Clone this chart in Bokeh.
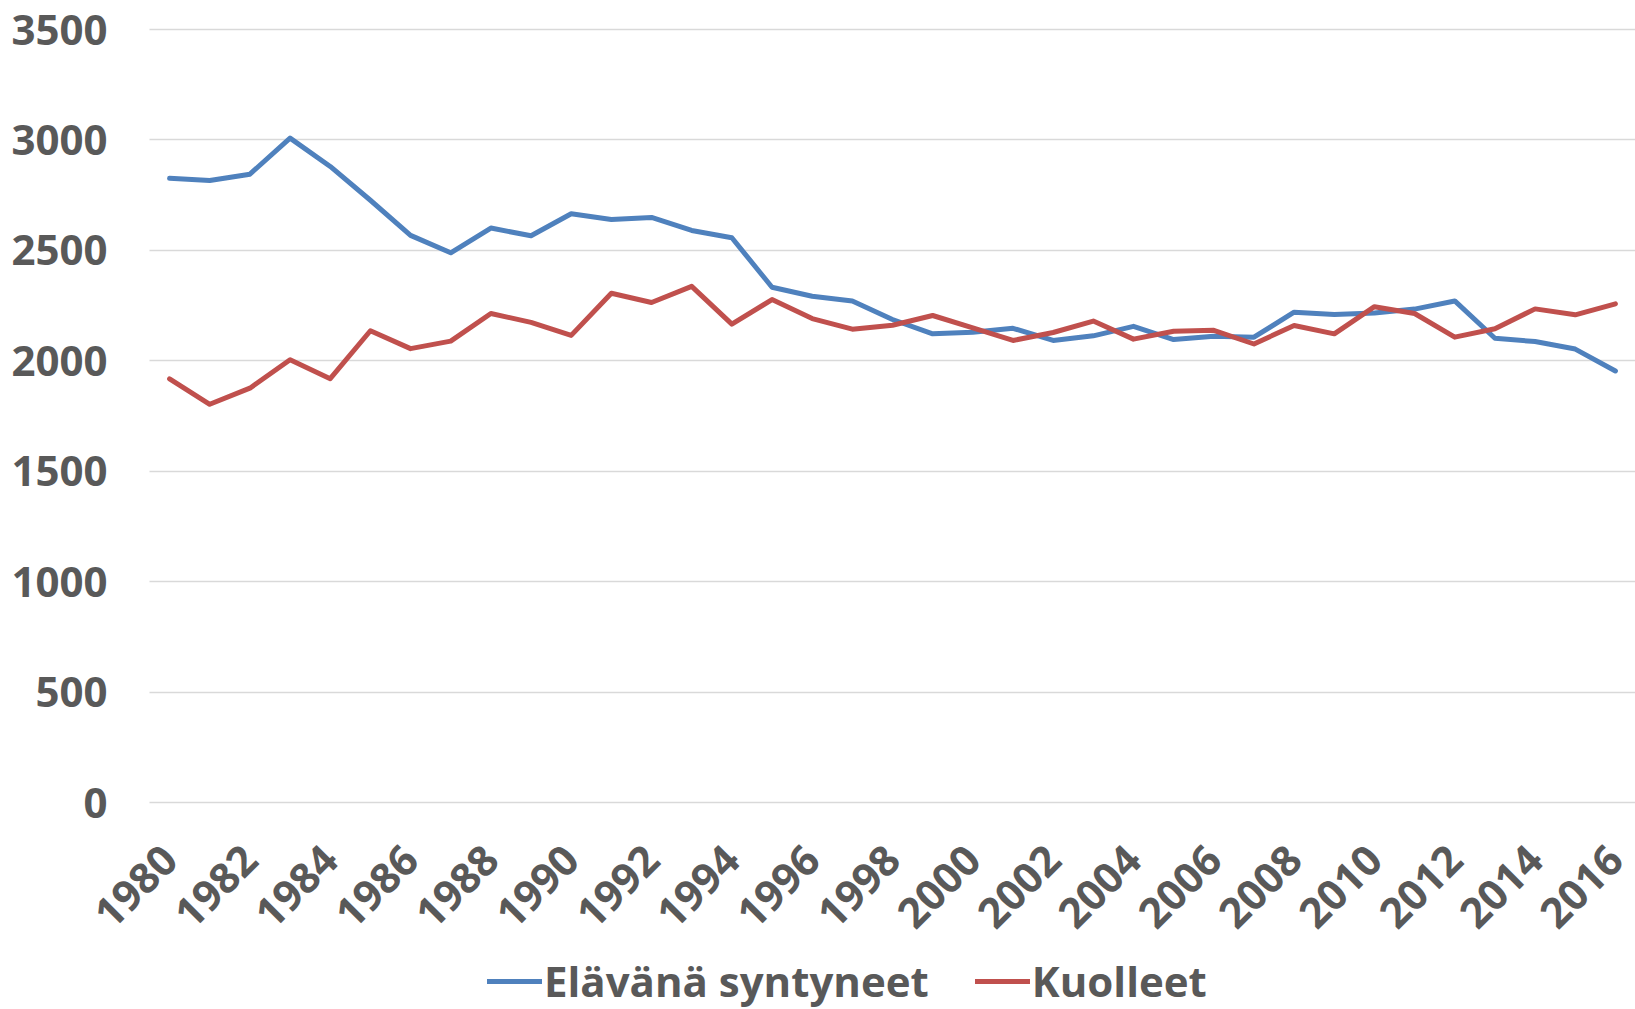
import math
from bokeh.plotting import figure
from bokeh.models import Range1d, FixedTicker, Legend, LegendItem
from bokeh.embed import file_html
from bokeh.resources import INLINE

years = list(range(1980, 2017))
births = [2826, 2816, 2845, 3008, 2880, 2727, 2568, 2489, 2601, 2566,
          2666, 2640, 2649, 2590, 2557, 2333, 2292, 2271, 2187, 2122,
          2129, 2147, 2092, 2113, 2156, 2096, 2111, 2107, 2220, 2210,
          2216, 2234, 2271, 2102, 2087, 2053, 1954]
deaths = [1918, 1803, 1876, 2005, 1919, 2136, 2055, 2089, 2214, 2174,
          2115, 2306, 2264, 2337, 2166, 2277, 2191, 2143, 2161, 2205,
          2149, 2092, 2128, 2180, 2098, 2134, 2138, 2076, 2160, 2122,
          2245, 2214, 2107, 2145, 2235, 2208, 2258]
series_names = ["Elävänä syntyneet", "Kuolleet"]
x_ticks = list(range(1980, 2017, 2))
y_ticks = [0, 500, 1000, 1500, 2000, 2500, 3000, 3500]

FONT = "Open Sans"
TXT = "#595959"

# page and plot-area geometry (pixels)
PAGE_W, PAGE_H = 1635, 1009
PLOT_LEFT, PLOT_W = 149, 1486
PLOT_TOP, PLOT_H = 29, 773
X0, X1 = years[0] - 0.5, years[-1] + 0.5
Y0, Y1 = y_ticks[0], y_ticks[-1]
px_per_x = PLOT_W / (X1 - X0)
px_per_y = PLOT_H / (Y1 - Y0)
x_start = X0 - PLOT_LEFT / px_per_x
x_end = X1 + (PAGE_W - PLOT_LEFT - PLOT_W) / px_per_x
y_end = Y1 + PLOT_TOP / px_per_y
y_start = Y0 - (PAGE_H - PLOT_TOP - PLOT_H) / px_per_y

# the frame covers the whole page; both axes sit at fixed locations so the
# tick labels and the legend stay inside the frame
p = figure(frame_width=PAGE_W, frame_height=PAGE_H, output_backend="svg",
           toolbar_location=None,
           x_range=Range1d(x_start, x_end), y_range=Range1d(y_start, y_end),
           min_border_left=0, min_border_right=0, min_border_top=0,
           min_border_bottom=0)
p.outline_line_color = None
p.background_fill_color = "white"
p.border_fill_color = "white"
p.xgrid.visible = False
p.ygrid.grid_line_color = "#D9D9D9"
p.ygrid.grid_line_width = 1.5
p.ygrid.ticker = FixedTicker(ticks=y_ticks)
p.ygrid.cross_bounds = (X0, X1)

for ax in (p.xaxis[0], p.yaxis[0]):
    ax.axis_line_color = None
    ax.major_tick_line_color = None
    ax.minor_tick_line_color = None
    ax.major_tick_out = 0
    ax.major_tick_in = 0
    ax.minor_tick_out = 0
    ax.major_label_text_font = FONT
    ax.major_label_text_font_size = "42px"
    ax.major_label_text_font_style = "bold"
    ax.major_label_text_color = TXT

p.yaxis[0].ticker = FixedTicker(ticks=y_ticks)
p.yaxis[0].fixed_location = X0
p.yaxis[0].major_label_standoff = 42
p.xaxis[0].ticker = FixedTicker(ticks=x_ticks)
p.xaxis[0].fixed_location = Y0
p.xaxis[0].major_label_orientation = math.pi / 4
p.xaxis[0].major_label_standoff = 50

r1 = p.line(years, births, line_color="#4F81BD", line_width=5,
            line_join="round", line_cap="round")
r2 = p.line(years, deaths, line_color="#C0504D", line_width=5,
            line_join="round", line_cap="round")

legend = Legend(items=[LegendItem(label=series_names[0], renderers=[r1]),
                       LegendItem(label=series_names[1], renderers=[r2])],
                orientation="horizontal", location=(487, 0),
                label_text_font=FONT, label_text_font_size="42px",
                label_text_font_style="bold", label_text_color=TXT,
                glyph_width=55, glyph_height=40, label_standoff=2,
                spacing=46, padding=0, margin=0,
                border_line_color=None, background_fill_alpha=0)
p.add_layout(legend, "center")

open("out.html", "w").write(file_html(p, INLINE))
